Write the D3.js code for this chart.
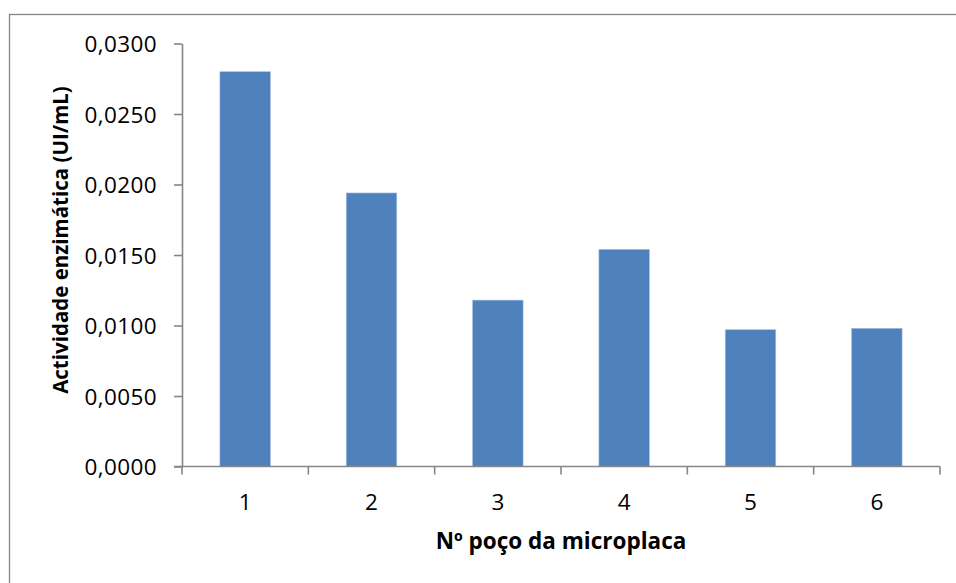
<!DOCTYPE html>
<html>
<head>
<meta charset="utf-8">
<script src="https://cdn.jsdelivr.net/npm/d3@7"></script>
<style>
  html, body { margin: 0; padding: 0; background: #fff; }
  svg { display: block; }
  text { font-family: "Open Sans", "Liberation Sans", sans-serif; fill: #000; }
</style>
</head>
<body>
<svg id="chart" width="956" height="583"></svg>
<script>
// Enzyme activity per microplate well
const wells = ["1", "2", "3", "4", "5", "6"];
const activity = [0.0280, 0.0194, 0.0118, 0.0154, 0.0097, 0.0098];
const yTicks = [0, 0.005, 0.010, 0.015, 0.020, 0.025, 0.030];
const xTitle = "Nº poço da microplaca";
const yTitle = "Actividade enzimática (UI/mL)";

const svg = d3.select("#chart");
const plot = { left: 182, right: 940, top: 43.5, bottom: 466.5 };
const axisColor = "#868686";

// outer chart frame (extends past the right/bottom edges)
svg.append("rect")
  .attr("x", 9.5).attr("y", 14.5)
  .attr("width", 960).attr("height", 600)
  .attr("fill", "#fff")
  .attr("stroke", axisColor).attr("stroke-width", 1.3);

const x = d3.scaleBand()
  .domain(wells)
  .range([plot.left, plot.right])
  .paddingInner(0.6)
  .paddingOuter(0.3);

const y = d3.scaleLinear()
  .domain([0, 0.03])
  .range([plot.bottom, plot.top]);

const fmt = v => d3.format(".4f")(v).replace(".", ",");

// bars
svg.append("g").selectAll("rect")
  .data(wells.map((w, i) => ({ w, v: activity[i] })))
  .join("rect")
  .attr("x", d => x(d.w))
  .attr("y", d => y(d.v))
  .attr("width", x.bandwidth())
  .attr("height", d => y(0) - y(d.v))
  .attr("fill", "#4F81BD")
  .attr("stroke", "#A7C0DE")
  .attr("stroke-width", 0.6);

// y axis
const yAxis = svg.append("g")
  .attr("transform", `translate(${plot.left},0)`)
  .call(d3.axisLeft(y).tickValues(yTicks).tickFormat(fmt).tickSize(8).tickSizeOuter(0).tickPadding(17));
yAxis.select(".domain").attr("stroke", axisColor).attr("stroke-width", 1.6);
yAxis.selectAll(".tick line").attr("stroke", axisColor).attr("stroke-width", 1.6);
yAxis.selectAll(".tick text")
  .style("font-size", "22.5px")
  .style("letter-spacing", "0.4px")
  .attr("dy", "0.36em");

// x axis with category boundary ticks
const xAxisG = svg.append("g").attr("transform", `translate(0,${plot.bottom})`);
xAxisG.append("line")
  .attr("x1", plot.left - 8).attr("x2", plot.right)
  .attr("stroke", axisColor).attr("stroke-width", 1.6);
const bounds = wells.map(w => x(w) + x.bandwidth() / 2 - x.step() / 2);
bounds.push(plot.right);
xAxisG.selectAll("line.b")
  .data(bounds)
  .join("line")
  .attr("class", "b")
  .attr("x1", d => d).attr("x2", d => d)
  .attr("y1", 0).attr("y2", 8)
  .attr("stroke", axisColor).attr("stroke-width", 1.6);
xAxisG.selectAll("text")
  .data(wells)
  .join("text")
  .attr("x", d => x(d) + x.bandwidth() / 2)
  .attr("y", 43)
  .attr("text-anchor", "middle")
  .style("font-size", "22.5px")
  .text(d => d);

// axis titles
svg.append("text")
  .attr("x", (plot.left + plot.right) / 2)
  .attr("y", 549)
  .attr("text-anchor", "middle")
  .style("font-size", "22.5px")
  .style("font-weight", "bold")
  .text(xTitle);

svg.append("text")
  .attr("transform", "translate(68,240) rotate(-90)")
  .attr("text-anchor", "middle")
  .style("font-size", "20.5px")
  .style("font-weight", "bold")
  .text(yTitle);
</script>
</body>
</html>
